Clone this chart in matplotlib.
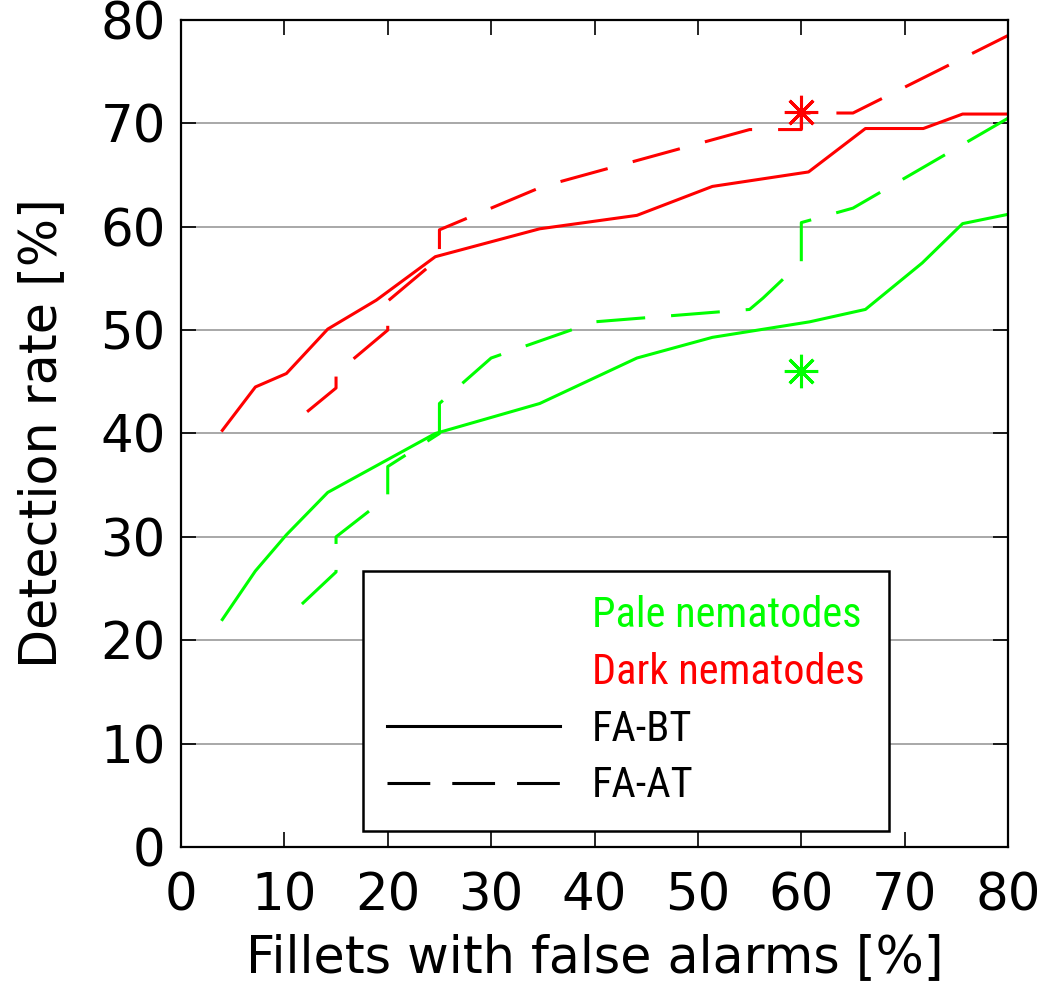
import numpy as np
import matplotlib
matplotlib.use('Agg')
import matplotlib.pyplot as plt
from matplotlib.lines import Line2D
from matplotlib.font_manager import FontProperties

# dark nematodes (red)
dark_bt_x = [4, 7.2, 10.2, 14.2, 18.9, 24.6, 34.7, 44.1, 51.4, 60.7, 66.2, 71.8, 75.6, 80]
dark_bt_y = [40.3, 44.5, 45.8, 50.1, 52.9, 57.1, 59.8, 61.1, 63.9, 65.3, 69.5, 69.5, 70.9, 70.9]
dark_at_x = [12.2, 15, 15, 20, 20, 25, 25, 35, 55, 60, 60, 65, 80]
dark_at_y = [42.1, 44.4, 45.8, 50.0, 52.8, 57.0, 59.7, 63.9, 69.4, 69.4, 71.0, 71.0, 78.5]

# pale nematodes (green)
pale_bt_x = [4, 7.2, 10.2, 14.2, 24.6, 34.7, 44.1, 51.4, 60.8, 66.2, 71.7, 75.6, 80]
pale_bt_y = [22.0, 26.7, 30.2, 34.3, 40.0, 42.9, 47.3, 49.3, 50.8, 52.0, 56.5, 60.3, 61.2]
pale_at_x = [11.7, 15, 15, 20, 20, 25, 25, 30, 40, 55, 56.3, 60, 60, 65, 80]
pale_at_y = [23.5, 26.6, 30.0, 33.9, 36.8, 40.0, 42.9, 47.3, 50.8, 52.0, 53.1, 56.6, 60.4, 61.8, 70.5]

# single operating points
star_x = [60, 60]
star_y = [71.1, 46.0]

red = '#ff0000'
green = '#00ff00'

fig = plt.figure(figsize=(10.49, 9.94), dpi=100)
ax = fig.add_axes([0.1725, 0.1479, 0.7885, 0.8320])

dash = (0, (16, 8.5))
ax.plot(pale_bt_x, pale_bt_y, '-', color=green, lw=2.2)
ax.plot(pale_at_x, pale_at_y, linestyle=dash, color=green, lw=2.2)
ax.plot(dark_bt_x, dark_bt_y, '-', color=red, lw=2.2)
ax.plot(dark_at_x, dark_at_y, linestyle=dash, color=red, lw=2.2)
ax.plot(star_x[0], star_y[0], marker=(8, 2, 0), color=red, ms=24, mew=2.2, ls='none')
ax.plot(star_x[1], star_y[1], marker=(8, 2, 0), color=green, ms=24, mew=2.2, ls='none')

ax.set_xlim(0, 80)
ax.set_ylim(0, 80)
ax.set_xticks(np.arange(0, 81, 10))
ax.set_yticks(np.arange(0, 81, 10))
ax.yaxis.grid(True, color='#999999', lw=1.2)
ax.set_axisbelow(True)
ax.tick_params(direction='in', length=11, width=1.2, top=True, right=True,
               labelsize=37)
ax.tick_params(axis='x', pad=18)
ax.tick_params(axis='y', pad=11)
for s in ax.spines.values():
    s.set_linewidth(1.6)
ax.set_xlabel('Fillets with false alarms [%]', fontsize=36.5, labelpad=8)
ax.set_ylabel('Detection rate [%]', fontsize=36.5, labelpad=24)

handles = [Line2D([], [], color='none'),
           Line2D([], [], color='none'),
           Line2D([], [], color='k', lw=2.2),
           Line2D([], [], color='k', lw=2.2, linestyle=(0, (14, 7.2)))]
labels = ['Pale nematodes', 'Dark nematodes', 'FA-BT', 'FA-AT']
leg_font = FontProperties(family='Roboto Condensed', size=30.5)
leg = ax.legend(handles, labels, loc='upper left', bbox_to_anchor=(0.22, 0.334),
                prop=leg_font, fancybox=False, framealpha=1, edgecolor='k',
                handlelength=4.08, handletextpad=0.75, labelspacing=0.37,
                borderpad=0.58, borderaxespad=0)
leg.get_frame().set_linewidth(1.8)
for t, c in zip(leg.get_texts(), [green, red, 'k', 'k']):
    t.set_color(c)

fig.savefig('out.png', dpi=100)
